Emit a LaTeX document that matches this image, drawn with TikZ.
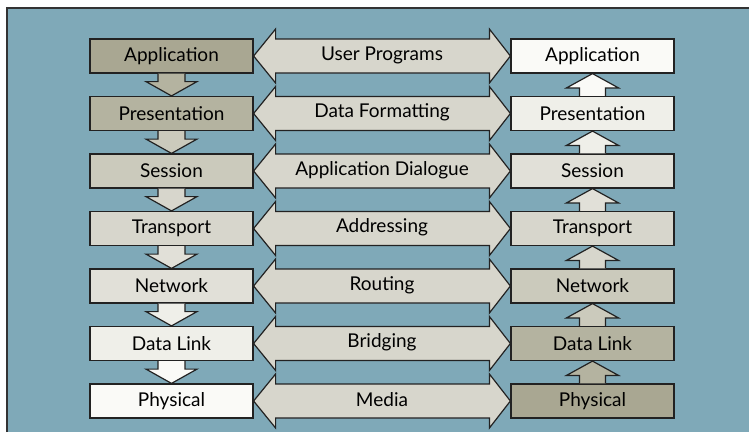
\documentclass[tikz,border=0pt]{standalone}
\usepackage{fontspec}
\setmainfont{Lato}
\usetikzlibrary{calc}
\definecolor{bg}{HTML}{7FA9B8}
\definecolor{edge}{HTML}{222222}
\definecolor{frame}{HTML}{333333}
\definecolor{cA}{HTML}{A9A792}
\definecolor{cB}{HTML}{B4B3A0}
\definecolor{cC}{HTML}{CBCABC}
\definecolor{cD}{HTML}{D7D6CC}
\definecolor{cE}{HTML}{E1E0D8}
\definecolor{cF}{HTML}{EFEFE9}
\definecolor{cG}{HTML}{FAFAF7}
\definecolor{mid}{HTML}{D7D6CC}
\begin{document}
\begin{tikzpicture}[x=1pt,y=-1pt,
  box/.style={draw=edge, line width=1.2pt, minimum width=163pt, minimum height=34pt, inner sep=0pt, font=\fontsize{19}{22}\selectfont},
  arr/.style={draw=edge, line width=1.2pt, line join=miter},
  lbl/.style={inner sep=0pt, font=\fontsize{19}{22}\selectfont}]
\useasboundingbox (0,0) rectangle (749,432);
\fill[bg] (7,8) rectangle (749,432);
\draw[frame, line width=2pt] (7,432) -- (7,8) -- (749,8);
% boxes
\foreach \i/\t/\cl/\cr in {1/Application/cA/cG, 2/Presentation/cB/cF, 3/Session/cC/cE, 4/Transport/cD/cD, 5/Network/cE/cC, 6/Data Link/cF/cB, 7/Physical/cG/cA}{
  \node[box, fill=\cl] (L\i) at (171.5, {56+57.5*(\i-1)}) {\t};
  \node[box, fill=\cr] (R\i) at (592.5, {56+57.5*(\i-1)}) {\t};
}
% double arrows with labels
\foreach \i/\m in {1/User Programs, 2/Data Formatting, 3/Application Dialogue, 4/Addressing, 5/Routing, 6/Bridging, 7/Media}{
  \draw[arr, fill=mid] (L\i.east) -- ($(L\i.east)+(22,-27)$) -- ($(L\i.east)+(22,-17)$)
    -- ($(R\i.west)+(-21,-17)$) -- ($(R\i.west)+(-21,-27)$) -- (R\i.west)
    -- ($(R\i.west)+(-21,27)$) -- ($(R\i.west)+(-21,17)$)
    -- ($(L\i.east)+(22,17)$) -- ($(L\i.east)+(22,27)$) -- cycle;
  \node[lbl] (M\i) at ($(L\i.east)!0.5!(R\i.west)+(0,-1)$) {\m};
}
% down arrows (left stack)
\foreach \i/\j/\c in {1/2/cB, 2/3/cC, 3/4/cD, 4/5/cE, 5/6/cF, 6/7/cG}{
  \filldraw[arr, fill=\c] ($(L\i.south)+(-13.5,0)$) -- ($(L\i.south)+(-13.5,8)$) -- ($(L\i.south)+(-25.5,8)$)
    -- (L\j.north) -- ($(L\i.south)+(25.5,8)$) -- ($(L\i.south)+(13.5,8)$) -- ($(L\i.south)+(13.5,0)$);
}
% up arrows (right stack)
\foreach \i/\j/\c in {7/6/cB, 6/5/cC, 5/4/cD, 4/3/cE, 3/2/cF, 2/1/cG}{
  \filldraw[arr, fill=\c] ($(R\i.north)+(-13,0)$) -- ($(R\i.north)+(-13,-8)$) -- ($(R\i.north)+(-26,-8)$)
    -- (R\j.south) -- ($(R\i.north)+(26,-8)$) -- ($(R\i.north)+(13,-8)$) -- ($(R\i.north)+(13,0)$);
}
\end{tikzpicture}
\end{document}
